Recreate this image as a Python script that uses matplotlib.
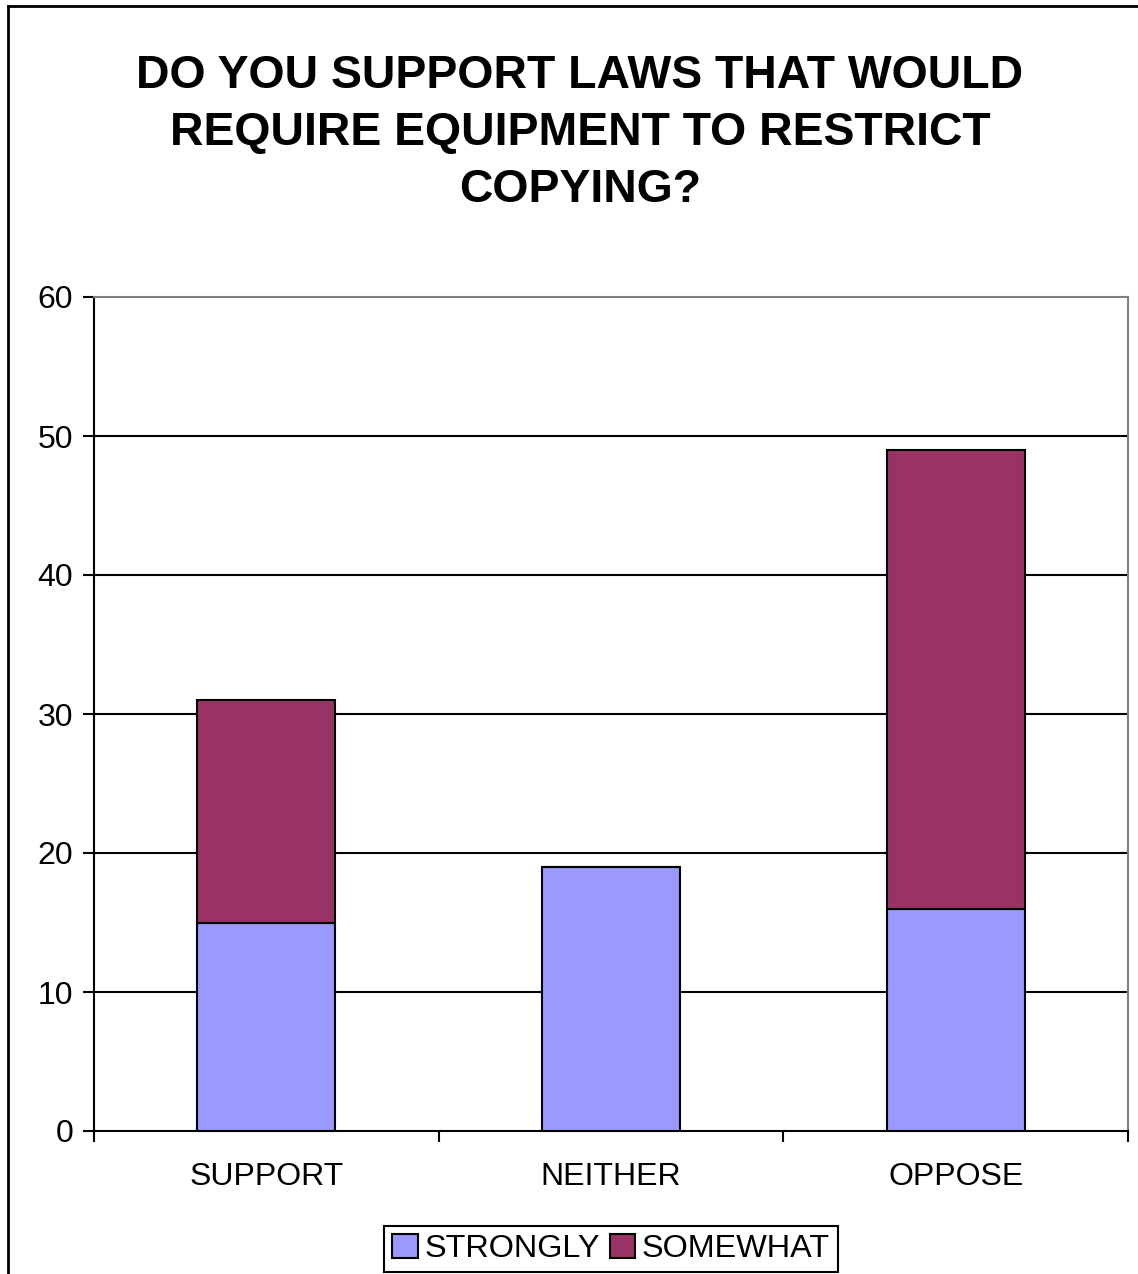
import numpy as np
import matplotlib
matplotlib.use('Agg')
import matplotlib.pyplot as plt
from matplotlib.lines import Line2D
from matplotlib.patches import Patch

plt.rcParams['font.family'] = ['Liberation Sans', 'DejaVu Sans']

categories = ['SUPPORT', 'NEITHER', 'OPPOSE']
strongly = [15, 19, 16]
somewhat = [16, 0, 33]
yticks = [0, 10, 20, 30, 40, 50, 60]

title = 'DO YOU SUPPORT LAWS THAT WOULD\nREQUIRE EQUIPMENT TO RESTRICT\nCOPYING?'

fig = plt.figure(figsize=(11.38, 12.74), dpi=100)
W, H = 1138, 1274
ax = fig.add_axes([94 / W, 1 - 1131 / H, (1128 - 94) / W, (1131 - 297) / H])

x = np.arange(len(categories))
ax.bar(x, strongly, width=0.4, color='#9999FF', edgecolor='black', linewidth=1.5, zorder=3)
ax.bar(x, somewhat, width=0.4, bottom=strongly, color='#993366', edgecolor='black',
       linewidth=1.5, zorder=3)

ax.set_xlim(-0.5, 2.5)
ax.set_ylim(0, 60)
ax.set_yticks(yticks)
ax.set_yticklabels([str(v) for v in yticks], fontsize=23)
for v in yticks[1:-1]:
    ax.axhline(v, color='black', linewidth=1.5, zorder=1)

# category labels sit between the boundary ticks
ax.set_xticks([-0.5, 0.5, 1.5, 2.5])
ax.set_xticklabels([])
ax.set_xticks(x, minor=True)
ax.set_xticklabels(categories, minor=True, fontsize=23)
ax.tick_params(axis='x', which='minor', length=0, pad=22)
ax.tick_params(axis='x', which='major', direction='out', length=8, width=1.5)
ax.tick_params(axis='y', direction='out', length=8, width=1.5, pad=7)

ax.spines['left'].set_linewidth(1.5)
ax.spines['bottom'].set_linewidth(1.5)
ax.spines['top'].set_color('#808080')
ax.spines['right'].set_color('#808080')
ax.spines['top'].set_linewidth(1.5)
ax.spines['right'].set_linewidth(1.5)

fig.text(580 / W, 1 - 133 / H, title, ha='center', va='center', fontsize=33.4,
         fontweight='bold', linespacing=1.38)

handles = [Patch(facecolor='#9999FF', edgecolor='black', linewidth=1.5),
           Patch(facecolor='#993366', edgecolor='black', linewidth=1.5)]
leg = fig.legend(handles, ['STRONGLY', 'SOMEWHAT'], loc='center',
                 bbox_to_anchor=(611 / W, 1 - 1249 / H), ncol=2, fontsize=23.3,
                 frameon=True, fancybox=False, framealpha=1, handlelength=0.8,
                 handleheight=0.8, handletextpad=0.2, columnspacing=0.3,
                 borderpad=0.25, borderaxespad=0)
leg.get_frame().set_edgecolor('black')
leg.get_frame().set_linewidth(1.5)

# outer chart border (left and top edges)
fig.add_artist(Line2D([8 / W, 8 / W], [0, 1 - 6 / H], color='black', linewidth=2,
                      transform=fig.transFigure))
fig.add_artist(Line2D([8 / W, 1], [1 - 6 / H, 1 - 6 / H], color='black', linewidth=2,
                      transform=fig.transFigure))

fig.savefig('out.png', dpi=100)
